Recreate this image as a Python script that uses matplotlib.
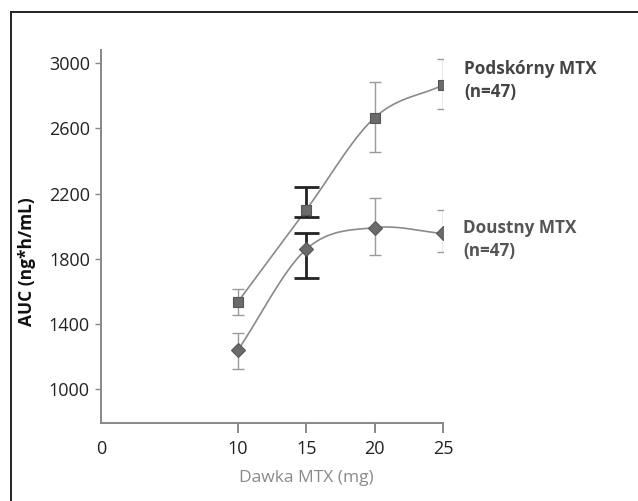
import matplotlib
matplotlib.use('Agg')
import matplotlib.pyplot as plt
import numpy as np
from matplotlib.lines import Line2D

plt.rcParams['font.family'] = ['Open Sans', 'DejaVu Sans']

dawka = [10, 15, 20, 25]

# Podskórny MTX (kwadraty)
podsk = [1535, 2100, 2665, 2865]
podsk_gora = [1616, 2240, 2882, 3025]
podsk_dol = [1456, 2056, 2457, 2721]

# Doustny MTX (romby)
doustny = [1239, 1858, 1991, 1955]
doustny_gora = [1346, 1959, 2172, 2100]
doustny_dol = [1122, 1685, 1825, 1839]

etykiety = ['Podskórny MTX\n(n=47)', 'Doustny MTX\n(n=47)']


def gladka(x, y, n=40):
    # Catmull-Rom przez punkty
    x = np.asarray(x, float)
    y = np.asarray(y, float)
    px = np.concatenate([[2*x[0]-x[1]], x, [2*x[-1]-x[-2]]])
    py = np.concatenate([[2*y[0]-y[1]], y, [2*y[-1]-y[-2]]])
    xs, ys = [], []
    t = np.linspace(0, 1, n)
    for i in range(1, len(px)-2):
        for arr, out in ((px, xs), (py, ys)):
            p0, p1, p2, p3 = arr[i-1], arr[i], arr[i+1], arr[i+2]
            out.append(0.5*((2*p1) + (-p0+p2)*t + (2*p0-5*p1+4*p2-p3)*t**2
                            + (-p0+3*p1-3*p2+p3)*t**3))
    return np.concatenate(xs), np.concatenate(ys)


W, H = 638, 501
fig = plt.figure(figsize=(W/100, H/100), dpi=100)
ax = fig.add_axes([101/W, 1-423/H, (443-101)/W, (423-50)/H])

szary = '#8a8a8a'
for y, g, d, m, ms in ((podsk, podsk_gora, podsk_dol, 's', 7),
                       (doustny, doustny_gora, doustny_dol, 'D', 7.5)):
    sx, sy = gladka(dawka, y)
    ax.plot(sx, sy, color=szary, lw=1.2, zorder=2)
    for i, xv in enumerate(dawka):
        gruby = xv == 15
        ax.errorbar([xv], [y[i]], yerr=[[y[i]-d[i]], [g[i]-y[i]]], fmt='none',
                    ecolor='#222222' if gruby else '#9a9a9a',
                    elinewidth=2.0 if gruby else 1.0,
                    capsize=9 if gruby else 4.5,
                    capthick=2.0 if gruby else 1.0, zorder=3)
    ax.plot(dawka, y, m, color='#6b6b6b', ms=ms, mec='#555555', mew=0.8, zorder=4)

ax.set_xlim(0, 25)
ax.set_ylim(793, 3080)
ax.set_xticks([0, 10, 15, 20, 25])
ax.set_yticks([1000, 1400, 1800, 2200, 2600, 3000])
ax.tick_params(axis='y', direction='out', length=4, width=1, color='#888888',
               labelsize=13, labelcolor='#222222', pad=4)
ax.tick_params(axis='x', direction='out', length=7.5, width=1.4, color='#888888',
               labelsize=13, labelcolor='#222222', pad=5)
ax.xaxis.get_major_ticks()[0].tick1line.set_visible(False)
for s in ('top', 'right'):
    ax.spines[s].set_visible(False)
for s in ('left', 'bottom'):
    ax.spines[s].set_color('#888888')
    ax.spines[s].set_linewidth(1.4)

fig.text(27.5/W, 1-262/H, 'AUC (ng*h/mL)', rotation=90, ha='center', va='center',
         fontsize=12.5, fontweight='bold', color='#111111')
fig.text(306/W, 1-478/H, 'Dawka MTX (mg)', ha='center', va='center',
         fontsize=12.5, color='#8a8a8a')

fig.text(464/W, 1-80.5/H, etykiety[0], fontsize=12.3, fontweight='bold', color='#444444',
         va='center', ha='left', linespacing=1.4)
fig.text(463/W, 1-239.5/H, etykiety[1], fontsize=12.3, fontweight='bold', color='#555555',
         va='center', ha='left', linespacing=1.4)

# ramka obrazka
fig.add_artist(Line2D([11/W, 11/W], [0, 1-12/H], color='#222222', lw=1.4))
fig.add_artist(Line2D([11/W, 1], [1-12/H, 1-12/H], color='#222222', lw=1.4))

fig.savefig('out.png', dpi=100)
